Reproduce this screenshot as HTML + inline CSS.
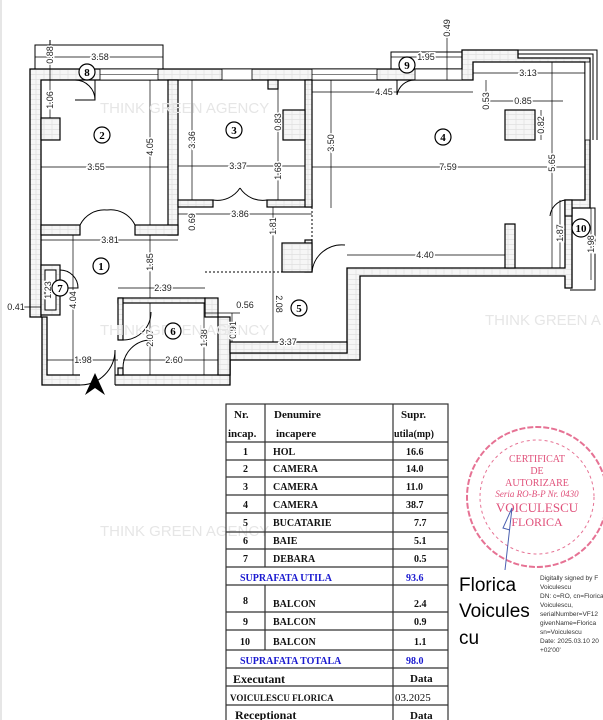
<!DOCTYPE html>
<html><head><meta charset="utf-8"><style>
html,body{margin:0;padding:0;background:#fff;}
svg{display:block;}
.d{font-family:"Liberation Sans",sans-serif;font-size:9px;fill:#222;}
.t{font-family:"Liberation Serif",serif;font-size:11px;font-weight:bold;fill:#111;}
.b{fill:#1a1ad0;}
.n{font-family:"Liberation Serif",serif;font-size:11px;font-weight:bold;text-anchor:middle;}
.w{font-family:"Liberation Sans",sans-serif;font-size:15px;fill:#e6e6e6;}
</style></head><body>
<svg width="603" height="720" viewBox="0 0 603 720" xmlns="http://www.w3.org/2000/svg">
<defs>
<pattern id="br" width="8" height="5" patternUnits="userSpaceOnUse">
<rect width="8" height="5" fill="#f6f6f6"/><path d="M0 4.5H8M4 0V4.5" stroke="#d4d4d4" stroke-width="0.5"/>
</pattern>
</defs>
<rect width="603" height="720" fill="#fff"/>
<line x1="1" y1="0" x2="1" y2="720" stroke="#ccc"/>
<polyline points="35,69 35,45 163,45 163,69" fill="none" stroke="#000" stroke-width="1"/>
<line x1="50" y1="40" x2="50" y2="45" stroke="#000"/>
<polyline points="391,69 391,52 462,52" fill="none" stroke="#000"/>
<polyline points="518,50 597,50 597,140" fill="none" stroke="#000"/>
<polyline points="518,54 593,54 593,140" fill="none" stroke="#000"/>
<polyline points="572,208 595,208 595,290 570,290" fill="none" stroke="#000"/>
<polygon points="30,69 462,69 462,50 518,50 518,58 590,58 590,208 572,208 572,288 565,288 565,276 360,276 360,360 230,360 230,385 42,385 42,317 30,317" fill="url(#br)" stroke="#000" stroke-width="1.3"/>
<polygon points="41,80 473,80 473,62 585,62 585,200 565,200 565,268 347,268 347,353 230,353 230,375 47,375 47,317 41,317" fill="#fff" stroke="#000" stroke-width="1.3"/>
<g fill="#fff" stroke="#000" stroke-width="0.8">
<rect x="100" y="69" width="58" height="11"/><rect x="222" y="69" width="30" height="11"/>
<rect x="312" y="69" width="65" height="11"/><rect x="415" y="69" width="47" height="11"/>
<rect x="585" y="62" width="5" height="78"/>
</g>
<line x1="100" y1="74.5" x2="158" y2="74.5" stroke="#000" stroke-width="0.6"/>
<line x1="312" y1="74.5" x2="377" y2="74.5" stroke="#000" stroke-width="0.6"/>
<g fill="url(#br)" stroke="#000" stroke-width="1.2">
<rect x="41" y="118" width="19" height="22"/>
<rect x="168" y="80" width="10" height="155"/>
<rect x="41" y="225" width="39" height="10"/>
<rect x="135" y="225" width="43" height="10"/>
<rect x="178" y="200" width="35" height="7"/>
<rect x="267" y="200" width="45" height="7"/>
<rect x="305" y="80" width="7" height="127"/>
<rect x="283" y="110" width="22" height="30"/>
<rect x="268" y="80" width="10" height="9"/>
<rect x="305" y="240" width="7" height="32"/>
<rect x="282" y="243" width="30" height="29"/>
<rect x="41" y="265" width="19" height="50"/>
<rect x="118" y="298" width="87" height="5"/>
<rect x="118" y="298" width="5" height="42"/>
<rect x="118" y="368" width="5" height="7"/>
<rect x="205" y="298" width="13" height="19"/>
<rect x="218" y="317" width="12" height="58"/>
<rect x="230" y="342" width="117" height="11"/>
<rect x="505" y="110" width="30" height="30"/>
<rect x="505" y="224" width="10" height="44"/>
<rect x="565" y="200" width="7" height="16"/>
</g>
<rect x="45" y="270" width="11" height="40" fill="#fff" stroke="#000"/>
<rect x="80" y="374" width="35" height="12" fill="#fff"/>
<g fill="none" stroke="#000" stroke-width="1">
<path d="M80 225 A27 27 0 0 1 107 210 M135 225 A27 27 0 0 0 107 210"/>
<path d="M213 200 A27 27 0 0 0 240 188 M267 200 A27 27 0 0 1 240 188"/>
<path d="M75 100 L95 100 A20 20 0 0 0 75 80"/>
<line x1="95" y1="80" x2="95" y2="100"/>
<path d="M123 340 A28 28 0 0 0 151 312 M123 368 A28 28 0 0 1 151 340"/>
<path d="M115 385 L115 350 A35 35 0 0 1 80 385"/>
<path d="M397 80 L397 95 M397 95 A18 18 0 0 1 415 80"/>
<path d="M312 272 L312 240 M312 272 A30 30 0 0 1 345 245"/>
<path d="M550 216 A18 18 0 0 1 565 200"/>
<path d="M60 270 A18 18 0 0 1 78 288 L60 288"/>
</g>
<line x1="312" y1="207" x2="312" y2="240" stroke="#000" stroke-dasharray="2,2"/>
<polyline points="205,272 312,272" fill="none" stroke="#000" stroke-dasharray="2,2"/>
<g stroke="#000" stroke-width="0.7" fill="none">
<line x1="35" y1="57" x2="163" y2="57"/><line x1="41" y1="167" x2="168" y2="167"/>
<line x1="150" y1="80" x2="150" y2="225"/><line x1="178" y1="166" x2="305" y2="166"/>
<line x1="192" y1="80" x2="192" y2="200"/><line x1="178" y1="214" x2="312" y2="214"/>
<line x1="41" y1="240" x2="178" y2="240"/><line x1="150" y1="235" x2="150" y2="298"/>
<line x1="118" y1="288" x2="205" y2="288"/><line x1="273" y1="207" x2="273" y2="342"/>
<line x1="47" y1="360" x2="118" y2="360"/><line x1="123" y1="360" x2="218" y2="360"/>
<line x1="73" y1="235" x2="73" y2="375"/><line x1="150" y1="303" x2="150" y2="375"/>
<line x1="276" y1="342" x2="347" y2="342"/><line x1="278" y1="80" x2="278" y2="200"/>
<line x1="312" y1="92" x2="473" y2="92"/><line x1="331" y1="80" x2="331" y2="208"/>
<line x1="473" y1="73" x2="585" y2="73"/><line x1="312" y1="167" x2="585" y2="167"/>
<line x1="552" y1="62" x2="552" y2="268"/><line x1="347" y1="255" x2="505" y2="255"/>
<line x1="560" y1="200" x2="560" y2="268"/><line x1="591" y1="208" x2="591" y2="280"/>
<line x1="447" y1="20" x2="447" y2="80"/><line x1="391" y1="57" x2="462" y2="57"/>
<line x1="486" y1="80" x2="486" y2="110"/><line x1="541" y1="110" x2="541" y2="140"/>
<line x1="22" y1="307" x2="41" y2="307"/><line x1="205" y1="313" x2="240" y2="313"/>
<line x1="232" y1="313" x2="232" y2="342"/><line x1="204" y1="303" x2="204" y2="375"/>
<line x1="50" y1="40" x2="50" y2="118"/><line x1="490" y1="101" x2="563" y2="101"/>
</g>
<g class="d" text-anchor="middle" stroke="#fff" stroke-width="3" style="paint-order:stroke">
<text x="100" y="60">3.58</text>
<text x="96" y="170">3.55</text>
<text x="238" y="169">3.37</text>
<text x="240" y="217">3.86</text>
<text x="110" y="243">3.81</text>
<text x="163" y="291">2.39</text>
<text x="245" y="308">0.56</text>
<text x="288" y="345">3.37</text>
<text x="16" y="310">0.41</text>
<text x="83" y="363">1.98</text>
<text x="174" y="363">2.60</text>
<text x="426" y="60">1.95</text>
<text x="384" y="95">4.45</text>
<text x="528" y="76">3.13</text>
<text x="523" y="104">0.85</text>
<text x="448" y="170">7.59</text>
<text x="425" y="258">4.40</text>
<text transform="translate(53,55) rotate(-90)">0.88</text>
<text transform="translate(53,100) rotate(-90)">1.06</text>
<text transform="translate(153,147) rotate(-90)">4.05</text>
<text transform="translate(195,140) rotate(-90)">3.36</text>
<text transform="translate(281,122) rotate(-90)">0.83</text>
<text transform="translate(281,171) rotate(-90)">1.68</text>
<text transform="translate(195,222) rotate(-90)">0.69</text>
<text transform="translate(153,262) rotate(-90)">1.85</text>
<text transform="translate(276,226) rotate(-90)">1.81</text>
<text transform="translate(276,304) rotate(90)">2.08</text>
<text transform="translate(236,330) rotate(-90)">0.91</text>
<text transform="translate(51,290) rotate(-90)">1.23</text>
<text transform="translate(76,300) rotate(-90)">4.04</text>
<text transform="translate(153,338) rotate(-90)">2.07</text>
<text transform="translate(207,338) rotate(-90)">1.38</text>
<text transform="translate(450,28) rotate(-90)">0.49</text>
<text transform="translate(334,143) rotate(-90)">3.50</text>
<text transform="translate(489,101) rotate(-90)">0.53</text>
<text transform="translate(544,125) rotate(-90)">0.82</text>
<text transform="translate(555,163) rotate(-90)">5.65</text>
<text transform="translate(563,233) rotate(-90)">1.87</text>
<text transform="translate(594,244) rotate(-90)">1.98</text>
</g>
<text class="w" x="100" y="113">THINK GREEN AGENCY</text>
<text class="w" x="100" y="335">THINK GREEN AGENCY</text>
<text class="w" x="485" y="325">THINK GREEN A</text>
<text class="w" x="100" y="536">THINK GREEN AGENCY</text>
<g fill="#fff" stroke="#000" stroke-width="1.2">
<circle cx="101" cy="266" r="8"/><circle cx="102" cy="135" r="8"/><circle cx="234" cy="130" r="8"/>
<circle cx="443" cy="137" r="8"/><circle cx="299" cy="308" r="8"/><circle cx="173" cy="331" r="8"/>
<circle cx="60" cy="288" r="8"/><circle cx="87" cy="72" r="8"/><circle cx="407" cy="65" r="8"/>
<circle cx="581" cy="228" r="9"/>
</g>
<g class="n">
<text x="101" y="270">1</text><text x="102" y="139">2</text><text x="234" y="134">3</text>
<text x="443" y="141">4</text><text x="299" y="312">5</text><text x="173" y="335">6</text>
<text x="60" y="292">7</text><text x="87" y="76">8</text><text x="407" y="69">9</text>
<text x="581" y="232">10</text>
</g>
<polygon points="95,373 85,395 95,388 105,395" fill="#000"/>
<g stroke="#333" stroke-width="1.2" fill="none">
<rect x="226" y="404" width="222" height="330"/>
<line x1="265" y1="404" x2="265" y2="567"/><line x1="265" y1="585" x2="265" y2="650"/>
<line x1="393" y1="404" x2="393" y2="720"/>
<line x1="226" y1="442" x2="448" y2="442"/><line x1="226" y1="460" x2="448" y2="460"/>
<line x1="226" y1="477" x2="448" y2="477"/><line x1="226" y1="495" x2="448" y2="495"/>
<line x1="226" y1="513" x2="448" y2="513"/><line x1="226" y1="532" x2="448" y2="532"/>
<line x1="226" y1="549" x2="448" y2="549"/><line x1="226" y1="567" x2="448" y2="567"/>
<line x1="226" y1="585" x2="448" y2="585"/><line x1="226" y1="612" x2="448" y2="612"/>
<line x1="226" y1="630" x2="448" y2="630"/><line x1="226" y1="650" x2="448" y2="650"/>
<line x1="226" y1="668" x2="448" y2="668"/><line x1="226" y1="686" x2="448" y2="686"/>
<line x1="226" y1="705" x2="448" y2="705"/>
</g>
<g class="t">
<text x="234" y="418">Nr.</text><text x="274" y="418">Denumire</text><text x="401" y="418">Supr.</text>
<text x="228" y="437">incap.</text><text x="276" y="437">incapere</text><text x="394" y="437" font-size="10">utila(mp)</text>
<g font-size="10">
<text x="243" y="455">1</text><text x="273" y="455">HOL</text><text x="406" y="455">16.6</text>
<text x="243" y="472">2</text><text x="273" y="472">CAMERA</text><text x="406" y="472">14.0</text>
<text x="243" y="490">3</text><text x="273" y="490">CAMERA</text><text x="406" y="490">11.0</text>
<text x="243" y="508">4</text><text x="273" y="508">CAMERA</text><text x="406" y="508">38.7</text>
<text x="243" y="526">5</text><text x="273" y="526">BUCATARIE</text><text x="414" y="526">7.7</text>
<text x="243" y="544">6</text><text x="273" y="544">BAIE</text><text x="414" y="544">5.1</text>
<text x="243" y="562">7</text><text x="273" y="562">DEBARA</text><text x="414" y="562">0.5</text>
<text x="240" y="581" class="b">SUPRAFATA  UTILA</text><text x="406" y="581" class="b">93.6</text>
<text x="243" y="604">8</text><text x="273" y="607">BALCON</text><text x="414" y="607">2.4</text>
<text x="243" y="625">9</text><text x="273" y="625">BALCON</text><text x="414" y="625">0.9</text>
<text x="240" y="645">10</text><text x="273" y="645">BALCON</text><text x="414" y="645">1.1</text>
<text x="240" y="664" class="b">SUPRAFATA  TOTALA</text><text x="406" y="664" class="b">98.0</text>
<text x="230" y="701" font-size="9">VOICULESCU  FLORICA</text><text x="395" y="701" font-size="11" font-weight="normal">03.2025</text>
</g>
<text x="233" y="683" font-size="12">Executant</text><text x="410" y="682">Data</text>
<text x="235" y="719" font-size="12">Receptionat</text><text x="410" y="719">Data</text>
</g>
<g fill="none" stroke="#e0507a" stroke-width="2" opacity="0.8">
<circle cx="537" cy="497" r="70" stroke-dasharray="6,2"/>
<circle cx="537" cy="497" r="57" stroke-width="1" stroke-dasharray="3,3"/>
</g>
<g font-family="Liberation Serif,serif" fill="#e0507a" text-anchor="middle" font-size="10">
<text x="537" y="462">CERTIFICAT</text><text x="537" y="474">DE</text>
<text x="537" y="486">AUTORIZARE</text><text x="537" y="497" font-style="italic" font-size="9">Seria RO-B-P Nr. 0430</text>
<text x="537" y="512" font-size="13">VOICULESCU</text><text x="537" y="526" font-size="12">FLORICA</text>
</g>
<path d="M512 508 L505 570 M512 508 L503 528 L510 530" stroke="#4a5fb0" fill="none" stroke-width="1"/>
<g font-family="Liberation Sans,sans-serif" fill="#000" font-size="19">
<text x="459" y="591">Florica</text><text x="459" y="617">Voicules</text><text x="459" y="644">cu</text>
</g>
<g font-family="Liberation Sans,sans-serif" fill="#333" font-size="6.5">
<text x="540" y="580">Digitally signed by F</text><text x="540" y="589">Voiculescu</text>
<text x="540" y="598">DN: c=RO, cn=Florica</text><text x="540" y="607">Voiculescu,</text>
<text x="540" y="616">serialNumber=VF12</text><text x="540" y="625">givenName=Florica</text>
<text x="540" y="634">sn=Voiculescu</text><text x="540" y="643">Date: 2025.03.10 20</text>
<text x="540" y="652">+02'00'</text>
</g>
</svg>
</body></html>
